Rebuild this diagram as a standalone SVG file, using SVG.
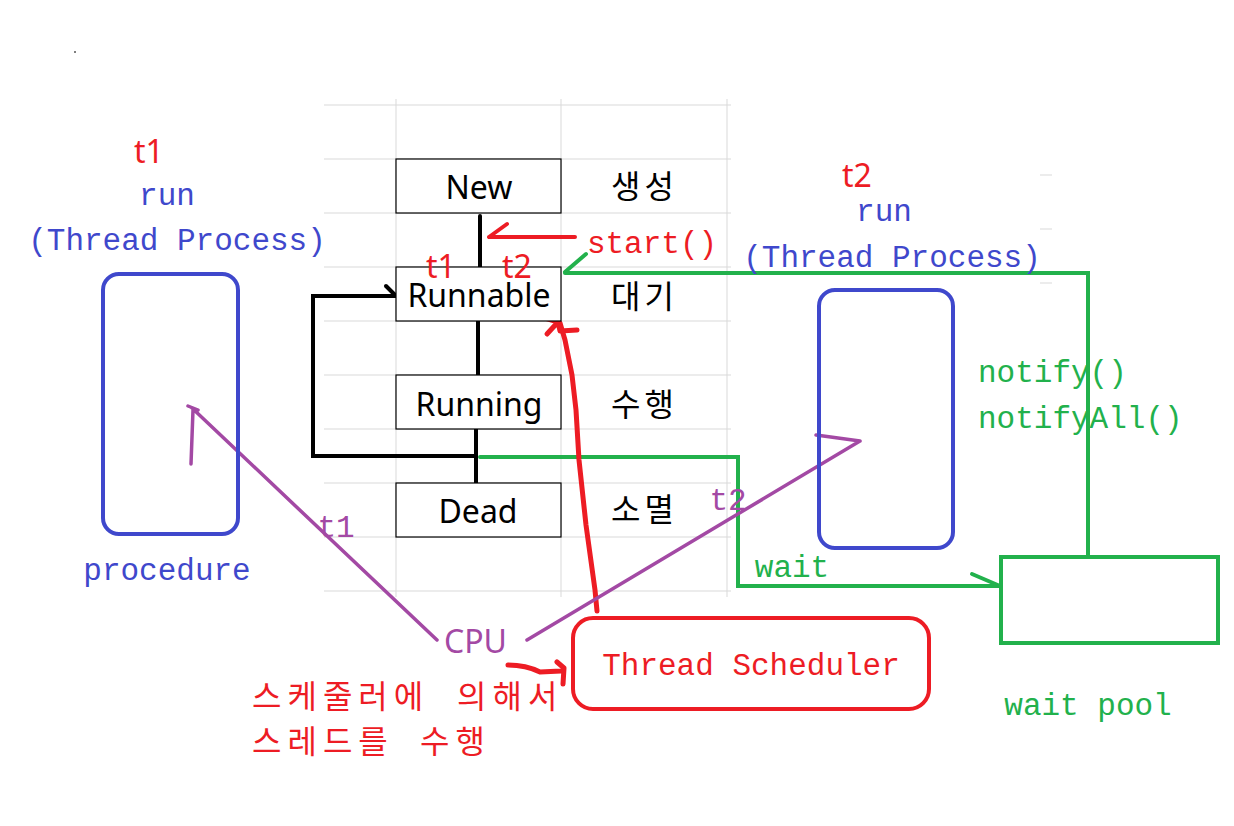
<svg xmlns="http://www.w3.org/2000/svg" width="1234" height="826" viewBox="0 0 1234 826">
<style>
.grid{stroke:#d9d9d9;stroke-width:1;fill:none}
.state{fill:#fff;stroke:#000;stroke-width:1.2}
.sans{font-family:"Noto Sans","Open Sans","Liberation Sans",sans-serif;font-size:32px}
.kr{font-family:"Noto Sans CJK KR","Noto Sans",sans-serif;font-size:32px}
.mono{font-family:"Liberation Mono","DejaVu Sans Mono",monospace;font-size:31px}
.blk{stroke:#000;stroke-width:4;fill:none;stroke-linecap:round}
.grn{stroke:#22b14c;stroke-width:4;fill:none;stroke-linecap:round;stroke-linejoin:miter}
.red{stroke:#ed1c24;fill:none;stroke-linecap:round;stroke-linejoin:round}
.pur{stroke:#a349a4;stroke-width:3.5;fill:none;stroke-linecap:round}
.blue{stroke:#3f48cc;stroke-width:4;fill:none}
.tb{fill:#3f48cc}.tr{fill:#ed1c24}.tg{fill:#22b14c}.tp{fill:#a349a4}.tk{fill:#000}
</style>
<rect width="1234" height="826" fill="#fff"/>
<circle cx="75" cy="52" r="1" fill="#555"/>
<g id="grid" class="grid">
<path d="M324,105H731M324,159H731M324,213H731M324,267H731M324,321H731M324,375H731M324,429H731M324,483H731M324,537H731M324,591H731"/>
<path d="M396,99V597M561,99V597M727,99V597"/>
<path d="M1040,175H1052M1040,229H1052M1040,283H1052"/>
</g>
<g id="connectors">
<path class="blk" d="M480,216V269"/>
<path class="blk" d="M478,321V377"/>
<path class="blk" d="M476,429V483"/>
<path class="blk" d="M476,456H313V296H396"/>
<path class="blk" d="M386,286L396,296"/>
<path class="grn" d="M480,457H738V586H1000"/>
<path class="grn" d="M972,574L1000,586"/>
<path class="grn" d="M1088,557V273H565"/>
<path class="grn" d="M586,254L565,272"/>
<path class="red" stroke-width="4" d="M575,237H489M507,224L489,237"/>
<path class="red" stroke-width="5" d="M597,611L595,590L586,525L579,460L576,410L572,375L565,340L560,323"/>
<path class="red" stroke-width="5" d="M532,314L558,322M547,334L558,322L560,331L577,330"/>
<path class="red" stroke-width="5" d="M508,665Q526,665 540,672L561,671M557,662L564,668L563,684"/>
<path class="pur" d="M437,640L192,408M191,464L193,410M188,406L198,410"/>
<path class="pur" d="M527,640L860,441M816,435L860,441"/>
</g>
<g id="new"><rect class="state" x="396" y="159" width="165" height="54"/><text class="sans tk" x="479" y="199" text-anchor="middle">New</text></g>
<g id="runnable"><rect class="state" x="396" y="267" width="165" height="54"/><text class="sans tk" x="479" y="307" text-anchor="middle">Runnable</text></g>
<g id="running"><rect class="state" x="396" y="375" width="165" height="54"/><text class="sans tk" x="479" y="416" text-anchor="middle">Running</text></g>
<g id="dead"><rect class="state" x="396" y="483" width="165" height="54"/><text class="sans tk" x="478" y="523" text-anchor="middle">Dead</text></g>
<g id="labels-kr">
<text class="kr tk" x="611" y="198" letter-spacing="4">생성</text>
<text class="kr tk" x="611" y="308" letter-spacing="4">대기</text>
<text class="kr tk" x="611" y="416" letter-spacing="4">수행</text>
<text class="kr tk" x="611" y="521" letter-spacing="4">소멸</text>
</g>
<g id="thread1">
<rect class="blue" x="103" y="274" width="135" height="260" rx="16"/>
<text class="sans tr" x="134" y="163">t1</text>
<text class="mono tb" x="167" y="205" text-anchor="middle">run</text>
<text class="mono tb" x="177" y="250" text-anchor="middle">(Thread Process)</text>
<text class="mono tb" x="167" y="580" text-anchor="middle">procedure</text>
</g>
<g id="thread2">
<rect class="blue" x="819" y="290" width="134" height="258" rx="16"/>
<text class="sans tr" x="842" y="187">t2</text>
<text class="mono tb" x="884" y="221" text-anchor="middle">run</text>
<text class="mono tb" x="892" y="267" text-anchor="middle">(Thread Process)</text>
</g>
<g id="state-labels">
<text class="mono tr" x="652" y="253" text-anchor="middle">start()</text>
<text class="sans tr" x="426" y="278" font-size="29">t1</text>
<text class="sans tr" x="502" y="278" font-size="29">t2</text>
<text class="mono tg" x="978" y="382">notify()</text>
<text class="mono tg" x="978" y="428">notifyAll()</text>
<text class="mono tg" x="792" y="577" text-anchor="middle">wait</text>
<text class="mono tp" x="336" y="537" text-anchor="middle">t1</text>
<text class="mono tp" x="728" y="510" text-anchor="middle">t2</text>
</g>
<g id="waitpool">
<rect x="1001" y="557" width="217" height="86" fill="none" stroke="#22b14c" stroke-width="4"/>
<text class="mono tg" x="1088" y="715" text-anchor="middle">wait pool</text>
</g>
<g id="scheduler">
<rect x="573" y="618" width="356" height="91" rx="20" fill="none" stroke="#ed1c24" stroke-width="4"/>
<text class="mono tr" x="751" y="675" text-anchor="middle">Thread Scheduler</text>
</g>
<g id="cpu">
<text class="sans tp" x="444" y="653" font-size="29">CPU</text>
</g>
<g id="note">
<text class="kr tr" y="708" font-size="33" letter-spacing="6"><tspan x="252">스케줄러에</tspan><tspan x="457">의해서</tspan></text>
<text class="kr tr" y="753" font-size="33" letter-spacing="6"><tspan x="252">스레드를</tspan><tspan x="420">수행</tspan></text>
</g>
</svg>
